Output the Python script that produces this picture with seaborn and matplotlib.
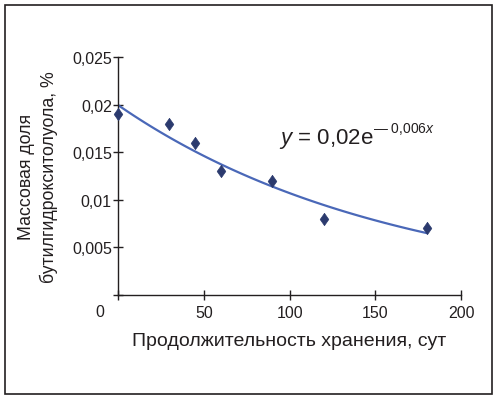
import numpy as np
import pandas as pd
import matplotlib
matplotlib.use("Agg")
import matplotlib.pyplot as plt
import seaborn as sns
from matplotlib.patches import Rectangle

# storage time (days) and BHT mass fraction (%)
days = [0, 30, 45, 60, 90, 120, 180]
bht = [0.019, 0.018, 0.016, 0.013, 0.012, 0.008, 0.007]
x_ticks = [0, 50, 100, 150, 200]
x_tick_labels = ['', '50', '100', '150', '200']
y_ticks = [0, 0.005, 0.01, 0.015, 0.02, 0.025]
y_tick_labels = ['', '0,005', '0,01', '0,015', '0,02', '0,025']

sns.set_style("white")
plt.rcParams['font.family'] = ['Liberation Sans', 'DejaVu Sans']
plt.rcParams['mathtext.fontset'] = 'custom'
plt.rcParams['mathtext.rm'] = 'Liberation Sans'
plt.rcParams['mathtext.it'] = 'Liberation Sans:italic'

ink = '#231f20'
df = pd.DataFrame({'days': days, 'bht': bht})

# exponential trendline fitted to the points
k, ln_a = np.polyfit(df['days'], np.log(df['bht']), 1)
trend = pd.DataFrame({'days': np.linspace(df['days'].min(), df['days'].max(), 60)})
trend['bht'] = np.exp(ln_a) * np.exp(k * trend['days'])

fig = plt.figure(figsize=(4.98, 4.02), dpi=100)
ax = fig.add_axes([0.237, 0.2637, 0.689, 0.592])

diamond = [(0, 1), (0.7, 0), (0, -1), (-0.7, 0), (0, 1)]
sns.lineplot(data=trend, x='days', y='bht', ax=ax, color='#4a68b8', linewidth=1.6)
sns.scatterplot(data=df, x='days', y='bht', ax=ax, marker=diamond, s=78,
                color='#2b3a6e', edgecolor='#2b3a6e', linewidth=0.5, zorder=3,
                clip_on=False)

ax.set_xlim(0, 200)
ax.set_ylim(0, 0.025)
ax.set_xticks(x_ticks)
ax.set_xticklabels(x_tick_labels)
ax.set_yticks(y_ticks)
ax.set_yticklabels(y_tick_labels)
ax.tick_params(bottom=True, left=True, direction='inout', length=7, width=1,
               color=ink, labelcolor=ink, labelsize=11.5)
ax.tick_params(axis='x', pad=4)
ax.tick_params(axis='y', pad=1)
for side in ['top', 'right']:
    ax.spines[side].set_visible(False)
for side in ['left', 'bottom']:
    ax.spines[side].set_color(ink)
    ax.spines[side].set_linewidth(1)

ax.text(-0.052, -0.071, '0', transform=ax.transAxes, ha='center', va='center',
        fontsize=11.5, color=ink)

ax.set_xlabel('Продолжительность хранения, сут', fontsize=14, color=ink)
ax.xaxis.set_label_coords(0.5, -0.155)
ax.set_ylabel('Массовая доля\nбутилгидрокситолуола, %', fontsize=12.8, color=ink,
              linespacing=1.3)
ax.yaxis.set_label_coords(-0.175, 0.5)

eq = ax.text(0.47, 0.66, r'$y$ = 0,02e', transform=ax.transAxes,
             fontsize=16, color=ink, ha='left', va='center')
ax.annotate('\u2014 0,006$x$', xy=(1, 0.6), xycoords=eq, xytext=(-0.5, 0),
            textcoords='offset points', fontsize=10, color=ink,
            ha='left', va='bottom')

fig.patches.append(Rectangle((0.010, 0.0174), 0.978, 0.968, transform=fig.transFigure,
                             fill=False, edgecolor=ink, linewidth=1.2))

plt.savefig('out.png', dpi=100)
